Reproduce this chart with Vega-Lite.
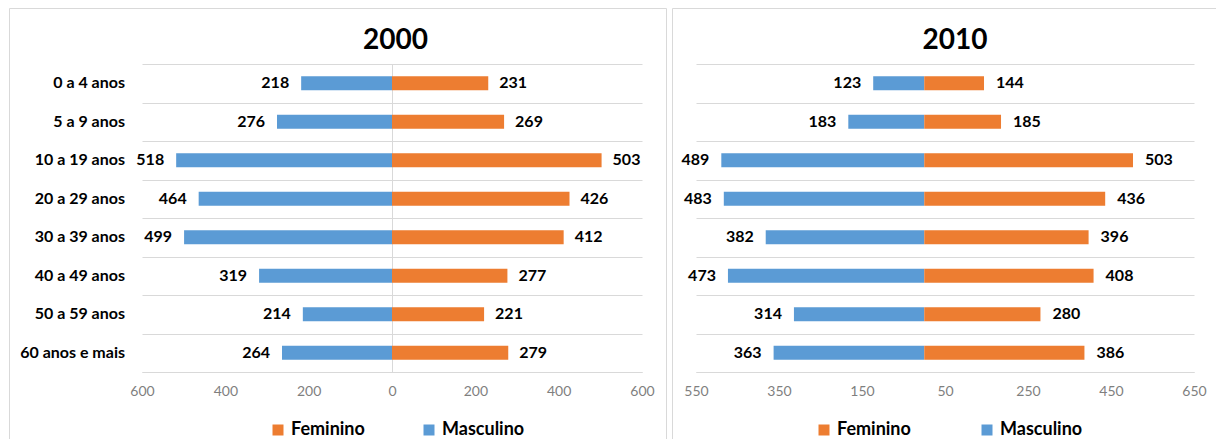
{
  "$schema": "https://vega.github.io/schema/vega-lite/v6.json",
  "padding": {"left": 8, "top": 7, "right": 0, "bottom": 0},
  "autosize": {"type": "pad"},
  "background": "#ffffff",
  "spacing": 6,
  "bounds": "flush",
  "config": {
    "font": "Lato",
    "view": {"stroke": "#d9d9d9", "strokeWidth": 1},
    "axis": {"labelFont": "Lato", "labelFontSize": 14, "labelColor": "#7f7f7f", "titleFont": "Lato"},
    "legend": {"labelFont": "Lato"}
  },
  "datasets": {
    "d2000": [
      {"faixa": "0 a 4 anos", "sexo": "Masculino", "v": -218},
      {"faixa": "0 a 4 anos", "sexo": "Feminino", "v": 231},
      {"faixa": "5 a 9 anos", "sexo": "Masculino", "v": -276},
      {"faixa": "5 a 9 anos", "sexo": "Feminino", "v": 269},
      {"faixa": "10 a 19 anos", "sexo": "Masculino", "v": -518},
      {"faixa": "10 a 19 anos", "sexo": "Feminino", "v": 503},
      {"faixa": "20 a 29 anos", "sexo": "Masculino", "v": -464},
      {"faixa": "20 a 29 anos", "sexo": "Feminino", "v": 426},
      {"faixa": "30 a 39 anos", "sexo": "Masculino", "v": -499},
      {"faixa": "30 a 39 anos", "sexo": "Feminino", "v": 412},
      {"faixa": "40 a 49 anos", "sexo": "Masculino", "v": -319},
      {"faixa": "40 a 49 anos", "sexo": "Feminino", "v": 277},
      {"faixa": "50 a 59 anos", "sexo": "Masculino", "v": -214},
      {"faixa": "50 a 59 anos", "sexo": "Feminino", "v": 221},
      {"faixa": "60 anos e mais", "sexo": "Masculino", "v": -264},
      {"faixa": "60 anos e mais", "sexo": "Feminino", "v": 279}
    ],
    "d2010": [
      {"faixa": "0 a 4 anos", "sexo": "Masculino", "v": -123},
      {"faixa": "0 a 4 anos", "sexo": "Feminino", "v": 144},
      {"faixa": "5 a 9 anos", "sexo": "Masculino", "v": -183},
      {"faixa": "5 a 9 anos", "sexo": "Feminino", "v": 185},
      {"faixa": "10 a 19 anos", "sexo": "Masculino", "v": -489},
      {"faixa": "10 a 19 anos", "sexo": "Feminino", "v": 503},
      {"faixa": "20 a 29 anos", "sexo": "Masculino", "v": -483},
      {"faixa": "20 a 29 anos", "sexo": "Feminino", "v": 436},
      {"faixa": "30 a 39 anos", "sexo": "Masculino", "v": -382},
      {"faixa": "30 a 39 anos", "sexo": "Feminino", "v": 396},
      {"faixa": "40 a 49 anos", "sexo": "Masculino", "v": -473},
      {"faixa": "40 a 49 anos", "sexo": "Feminino", "v": 408},
      {"faixa": "50 a 59 anos", "sexo": "Masculino", "v": -314},
      {"faixa": "50 a 59 anos", "sexo": "Feminino", "v": 280},
      {"faixa": "60 anos e mais", "sexo": "Masculino", "v": -363},
      {"faixa": "60 anos e mais", "sexo": "Feminino", "v": 386}
    ]
  },
  "resolve": {"scale": {"color": "independent"}},
  "hconcat": [
    {
      "width": 657,
      "height": 433,
      "title": {"text": "2000", "fontSize": 28, "font": "Lato", "fontWeight": "bold", "color": "#000000", "anchor": "middle", "frame": "group", "dx": 58, "offset": -69, "baseline": "alphabetic"},
      "data": {"name": "d2000"},
      "encoding": {
        "y": {
          "field": "faixa", "type": "nominal",
          "scale": {"domain": ["0 a 4 anos", "5 a 9 anos", "10 a 19 anos", "20 a 29 anos", "30 a 39 anos", "40 a 49 anos", "50 a 59 anos", "60 anos e mais"], "range": [56, 364], "paddingInner": 0, "paddingOuter": 0},
          "axis": {"title": null, "offset": -383, "labels": false, "ticks": false, "domain": true, "domainColor": "#d9d9d9", "grid": true, "gridColor": "#d9d9d9", "tickBand": "extent"}
        }
      },
      "layer": [
        {
          "mark": {"type": "bar", "height": {"band": 0.364}},
          "encoding": {
            "x": {
              "field": "v", "type": "quantitative",
              "scale": {"domain": [-600, 600], "range": [133, 633], "nice": false, "zero": false},
              "axis": {"title": null, "offset": -69, "values": [-600, -400, -200, 0, 200, 400, 600], "labelExpr": "abs(datum.value)", "labelFlush": false, "domainColor": "#d9d9d9", "ticks": false, "grid": false, "labelPadding": 12}
            },
            "color": {
              "field": "sexo", "type": "nominal",
              "scale": {"domain": ["Feminino", "Masculino"], "range": ["#ED7D31", "#5B9BD5"]},
              "legend": {"orient": "none", "legendX": 260, "legendY": 413, "direction": "horizontal", "title": null, "symbolType": "square", "symbolSize": 121, "symbolStrokeWidth": 0, "symbolOpacity": 1, "labelFontSize": 18, "labelFontWeight": "bold", "labelColor": "#000000", "labelOffset": 4, "columnPadding": 55, "padding": 0}
            }
          }
        },
        {
          "transform": [{"filter": "datum.sexo === 'Masculino'"}],
          "mark": {"type": "text", "align": "right", "baseline": "middle", "dx": -12, "fontSize": 16, "fontWeight": "bold", "color": "#000000", "text": {"expr": "abs(datum.v)"}},
          "encoding": {"x": {"field": "v", "type": "quantitative"}}
        },
        {
          "transform": [{"filter": "datum.sexo === 'Feminino'"}],
          "mark": {"type": "text", "align": "left", "baseline": "middle", "dx": 11, "fontSize": 16, "fontWeight": "bold", "color": "#000000", "text": {"expr": "abs(datum.v)"}},
          "encoding": {"x": {"field": "v", "type": "quantitative"}}
        },
        {
          "transform": [{"filter": "datum.sexo === 'Masculino'"}],
          "mark": {"type": "text", "align": "right", "baseline": "middle", "dx": -17, "fontSize": 16, "fontWeight": "bold", "color": "#000000"},
          "encoding": {"x": {"datum": -600}, "text": {"field": "faixa"}}
        }
      ]
    },
    {
      "width": 546,
      "height": 433,
      "title": {"text": "2010", "fontSize": 28, "font": "Lato", "fontWeight": "bold", "color": "#000000", "anchor": "middle", "frame": "group", "dx": 10, "offset": -69, "baseline": "alphabetic"},
      "data": {"name": "d2010"},
      "encoding": {
        "y": {
          "field": "faixa", "type": "nominal",
          "scale": {"domain": ["0 a 4 anos", "5 a 9 anos", "10 a 19 anos", "20 a 29 anos", "30 a 39 anos", "40 a 49 anos", "50 a 59 anos", "60 anos e mais"], "range": [56, 364], "paddingInner": 0, "paddingOuter": 0},
          "axis": {"title": null, "labels": false, "ticks": false, "domain": false, "grid": true, "gridColor": "#d9d9d9", "tickBand": "extent"}
        }
      },
      "layer": [
        {
          "mark": {"type": "bar", "height": {"band": 0.364}},
          "encoding": {
            "x": {
              "field": "v", "type": "quantitative",
              "scale": {"domain": [-550, 650], "range": [24, 522], "nice": false, "zero": false},
              "axis": {"title": null, "offset": -69, "values": [-550, -350, -150, 50, 250, 450, 650], "labelExpr": "abs(datum.value)", "labelFlush": false, "domainColor": "#d9d9d9", "ticks": false, "grid": false, "labelPadding": 12}
            },
            "color": {
              "field": "sexo", "type": "nominal",
              "scale": {"domain": ["Feminino", "Masculino"], "range": ["#ED7D31", "#5B9BD5"]},
              "legend": {"orient": "none", "legendX": 143, "legendY": 413, "direction": "horizontal", "title": null, "symbolType": "square", "symbolSize": 121, "symbolStrokeWidth": 0, "symbolOpacity": 1, "labelFontSize": 18, "labelFontWeight": "bold", "labelColor": "#000000", "labelOffset": 4, "columnPadding": 67, "padding": 0}
            }
          }
        },
        {
          "transform": [{"filter": "datum.sexo === 'Masculino'"}],
          "mark": {"type": "text", "align": "right", "baseline": "middle", "dx": -12, "fontSize": 16, "fontWeight": "bold", "color": "#000000", "text": {"expr": "abs(datum.v)"}},
          "encoding": {"x": {"field": "v", "type": "quantitative"}}
        },
        {
          "transform": [{"filter": "datum.sexo === 'Feminino'"}],
          "mark": {"type": "text", "align": "left", "baseline": "middle", "dx": 12, "fontSize": 16, "fontWeight": "bold", "color": "#000000", "text": {"expr": "abs(datum.v)"}},
          "encoding": {"x": {"field": "v", "type": "quantitative"}}
        }
      ]
    }
  ]
}
